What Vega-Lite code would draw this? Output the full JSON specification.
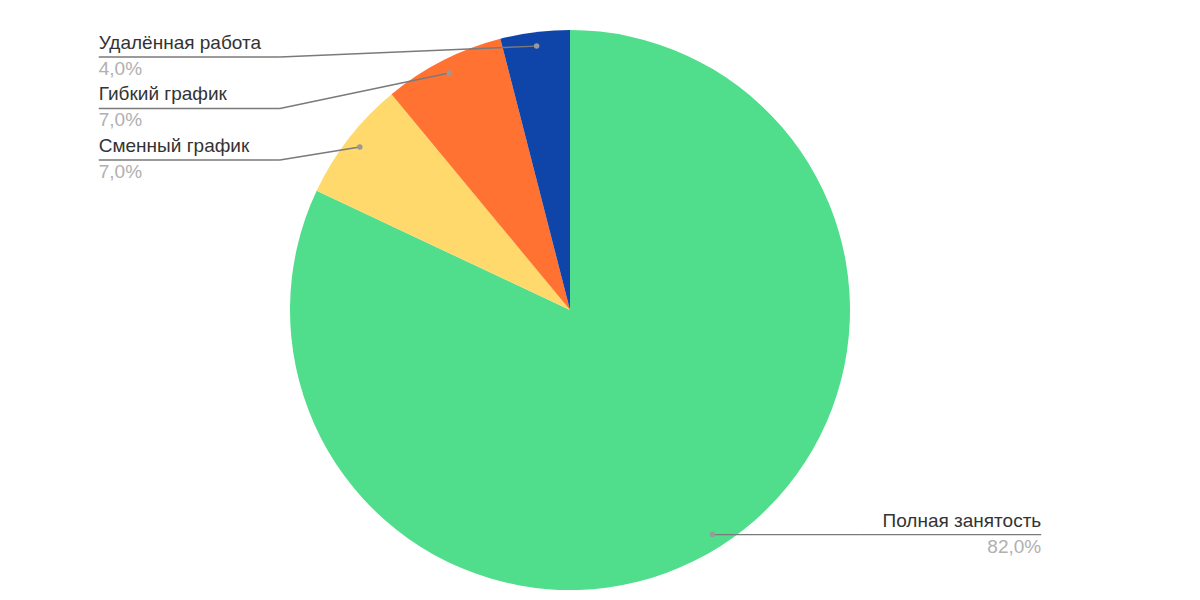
{
  "$schema": "https://vega.github.io/schema/vega-lite/v6.json",
  "width": 1200,
  "height": 600,
  "autosize": {"type": "fit", "contains": "padding"},
  "padding": {"left": 0, "right": 60, "top": 20, "bottom": 0},
  "background": "white",
  "config": {"view": {"stroke": null}, "font": "Liberation Sans"},
  "data": {
    "values": [
      {"category": "Полная занятость", "value": 82, "order": 1},
      {"category": "Сменный график", "value": 7, "order": 2},
      {"category": "Гибкий график", "value": 7, "order": 3},
      {"category": "Удалённая работа", "value": 4, "order": 4}
    ]
  },
  "transform": [
    {"joinaggregate": [{"op": "sum", "field": "value", "as": "total"}]},
    {"window": [{"op": "sum", "field": "value", "as": "cum"}], "sort": [{"field": "order"}], "frame": [null, 0]},
    {"calculate": "(datum.cum - datum.value / 2) / datum.total * 2 * PI", "as": "mid"},
    {"calculate": "0.95 * sin(datum.mid)", "as": "dx"},
    {"calculate": "0.95 * cos(datum.mid)", "as": "dy"},
    {"calculate": "datum.dx < 0 ? -1 : 1", "as": "side"},
    {"window": [{"op": "row_number", "as": "rank"}], "groupby": ["side"], "sort": [{"field": "mid", "order": "descending"}]},
    {"calculate": "datum.side < 0 ? 0.9036 - 0.1839 * (datum.rank - 1) : datum.dy", "as": "ly"},
    {"calculate": "datum.side * max(abs(datum.dx), 1.036)", "as": "ex"},
    {"calculate": "datum.side * 1.683", "as": "lx"},
    {"calculate": "replace(format(datum.value / datum.total, '.1%'), '.', ',')", "as": "pct"}
  ],
  "layer": [
    {
      "mark": {"type": "arc", "radius": 280},
      "encoding": {
        "theta": {"field": "value", "type": "quantitative", "stack": true},
        "order": {"field": "order", "type": "quantitative"},
        "color": {
          "field": "category",
          "type": "nominal",
          "scale": {
            "domain": ["Полная занятость", "Сменный график", "Гибкий график", "Удалённая работа"],
            "range": ["#50dd8c", "#ffd96b", "#ff7232", "#0f44a8"]
          },
          "legend": null
        }
      }
    },
    {
      "mark": {"type": "rule", "color": "#7a7a7a", "strokeWidth": 1.4},
      "encoding": {
        "x": {"field": "dx", "type": "quantitative", "scale": {"domain": [-2.0357, 2.0357], "nice": false, "zero": false}, "axis": null},
        "y": {"field": "dy", "type": "quantitative", "scale": {"domain": [-1.0357, 1.0357], "nice": false, "zero": false}, "axis": null},
        "x2": {"field": "ex"},
        "y2": {"field": "ly"}
      }
    },
    {
      "mark": {"type": "rule", "color": "#7a7a7a", "strokeWidth": 1.4},
      "encoding": {
        "x": {"field": "ex", "type": "quantitative"},
        "y": {"field": "ly", "type": "quantitative"},
        "x2": {"field": "lx"}
      }
    },
    {
      "mark": {"type": "point", "filled": true, "color": "#999999", "size": 30, "opacity": 1},
      "encoding": {
        "x": {"field": "dx", "type": "quantitative"},
        "y": {"field": "dy", "type": "quantitative"}
      }
    },
    {
      "transform": [{"filter": "datum.side < 0"}],
      "mark": {"type": "text", "align": "left", "baseline": "alphabetic", "dy": -8, "fontSize": 19, "color": "#333333"},
      "encoding": {
        "x": {"field": "lx", "type": "quantitative"},
        "y": {"field": "ly", "type": "quantitative"},
        "text": {"field": "category"}
      }
    },
    {
      "transform": [{"filter": "datum.side < 0"}],
      "mark": {"type": "text", "align": "left", "baseline": "alphabetic", "dy": 18, "fontSize": 19, "color": "#b0b0b0"},
      "encoding": {
        "x": {"field": "lx", "type": "quantitative"},
        "y": {"field": "ly", "type": "quantitative"},
        "text": {"field": "pct"}
      }
    },
    {
      "transform": [{"filter": "datum.side > 0"}],
      "mark": {"type": "text", "align": "right", "baseline": "alphabetic", "dy": -8, "fontSize": 19, "color": "#333333"},
      "encoding": {
        "x": {"field": "lx", "type": "quantitative"},
        "y": {"field": "ly", "type": "quantitative"},
        "text": {"field": "category"}
      }
    },
    {
      "transform": [{"filter": "datum.side > 0"}],
      "mark": {"type": "text", "align": "right", "baseline": "alphabetic", "dy": 18, "fontSize": 19, "color": "#b0b0b0"},
      "encoding": {
        "x": {"field": "lx", "type": "quantitative"},
        "y": {"field": "ly", "type": "quantitative"},
        "text": {"field": "pct"}
      }
    }
  ]
}
